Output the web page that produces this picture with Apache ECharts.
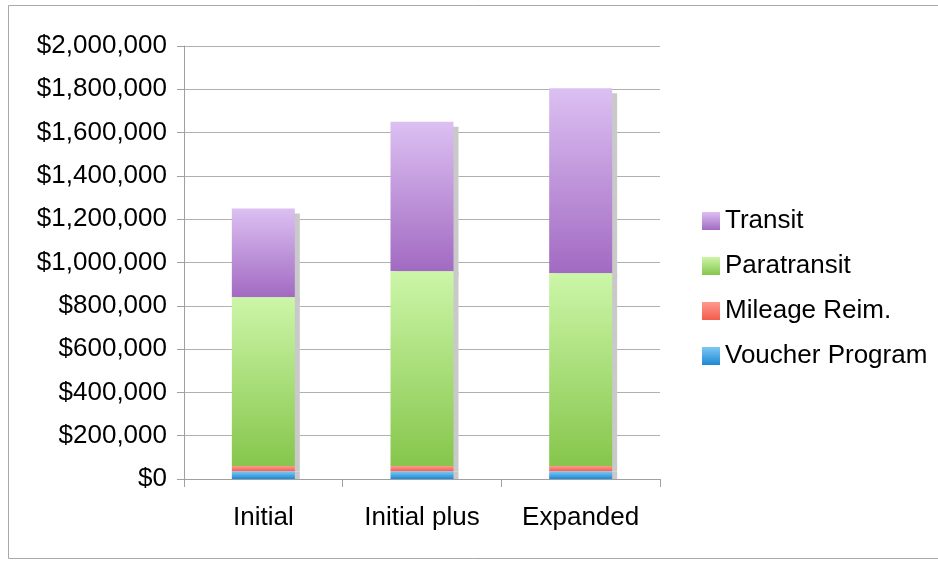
<!DOCTYPE html>
<html>
<head>
<meta charset="utf-8">
<script src="https://cdn.jsdelivr.net/npm/echarts@6/dist/echarts.min.js"></script>
<style>
  html, body { margin: 0; padding: 0; background: #fff; }
  #chart { width: 938px; height: 561px; }
</style>
</head>
<body>
<div id="chart"></div>
<script>
// chart data
var categories = ['Initial', 'Initial plus', 'Expanded'];
var voucher = [35000, 35000, 35000];
var mileage = [25000, 25000, 25000];
var paratransit = [780000, 900000, 890000];
var transit = [410000, 690000, 855000];
var legendOrder = ['Transit', 'Paratransit', 'Mileage Reim.', 'Voucher Program'];

function grad(top, bottom) {
  return new echarts.graphic.LinearGradient(0, 0, 0, 1, [
    { offset: 0, color: top },
    { offset: 1, color: bottom }
  ]);
}

function money(v) {
  return '$' + String(v).replace(/\B(?=(\d{3})+(?!\d))/g, ',');
}

var chart = echarts.init(document.getElementById('chart'));

// lower pieces drawn on top so a piece's shadow never shows on the one below
function barSeries(name, data, top, bottom, z, offY) {
  return {
    name: name,
    type: 'bar',
    stack: 'total',
    barWidth: 63,
    z: z,
    data: data,
    itemStyle: {
      color: grad(top, bottom),
      shadowColor: '#c9c9c9',
      shadowOffsetX: 5,
      shadowOffsetY: offY,
      shadowBlur: 0
    }
  };
}

var font = 'Liberation Sans, Arial, sans-serif';

var option = {
  backgroundColor: '#fff',
  animation: false,
  grid: { left: 184, right: 278, top: 46, bottom: 82 },
  legend: {
    data: legendOrder,
    orient: 'vertical',
    left: 697,
    top: 201,
    icon: 'rect',
    itemWidth: 18,
    itemHeight: 18,
    itemGap: 15,
    textStyle: {
      fontFamily: font,
      fontSize: 26,
      color: '#000',
      lineHeight: 30
    }
  },
  xAxis: {
    type: 'category',
    data: categories,
    axisLine: { lineStyle: { color: '#a0a0a0', width: 1 } },
    axisTick: { show: true, length: 8, lineStyle: { color: '#a0a0a0' } },
    axisLabel: {
      margin: 26,
      color: '#000',
      fontFamily: font,
      fontSize: 26
    }
  },
  yAxis: {
    type: 'value',
    min: 0,
    max: 2000000,
    interval: 200000,
    axisLine: { show: true, lineStyle: { color: '#a0a0a0', width: 1 } },
    axisTick: { show: true, length: 7, lineStyle: { color: '#a0a0a0' } },
    splitLine: { lineStyle: { color: '#b0b0b0', width: 1 } },
    axisLabel: {
      margin: 17,
      color: '#000',
      fontFamily: font,
      fontSize: 26,
      formatter: money
    }
  },
  graphic: [{
    type: 'rect',
    silent: true,
    z: -10,
    shape: { x: 8.5, y: 5.5, width: 940, height: 553 },
    style: { fill: 'none', stroke: '#a8a8a8', lineWidth: 1 }
  }],
  series: [
    barSeries('Voucher Program', voucher, '#7cc8f4', '#1e88d4', 8, 0),
    barSeries('Mileage Reim.', mileage, '#ff9a90', '#f25c4c', 7, 0),
    barSeries('Paratransit', paratransit, '#ccf6a8', '#86c64c', 6, 0),
    barSeries('Transit', transit, '#dcc0f2', '#a26ac2', 5, 5)
  ]
};

chart.setOption(option);
</script>
</body>
</html>
